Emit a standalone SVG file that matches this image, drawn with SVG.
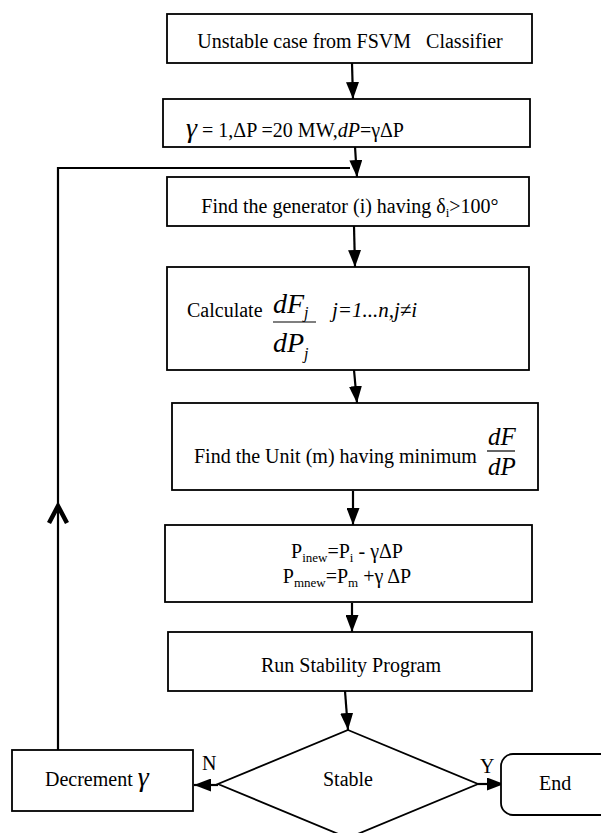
<svg xmlns="http://www.w3.org/2000/svg" width="601" height="833" viewBox="0 0 601 833">
<style>
.box{fill:#fff;stroke:#000;stroke-width:1.8}
.t{font-family:"Liberation Serif","Times New Roman",serif;font-size:20px;fill:#000}
.i{font-style:italic}
.c{stroke:#000;stroke-width:2.2;fill:none}
.g{font-style:italic;font-size:28px}
.f4{font-size:28px}
.f5{font-size:25px}
.sm{font-size:21px}
</style>
<defs>
<marker id="ah" viewBox="0 0 17 13" refX="17" refY="6.5" markerWidth="17" markerHeight="13" markerUnits="userSpaceOnUse" orient="auto">
<path d="M0,0 L17,6.5 L0,13 z" fill="#000"/>
</marker>
</defs>
<rect width="601" height="833" fill="#fff"/>

<g id="connectors">
<line class="c" x1="352" y1="63" x2="353" y2="99" marker-end="url(#ah)"/>
<line class="c" x1="355" y1="147" x2="357" y2="177" marker-end="url(#ah)"/>
<line class="c" x1="354" y1="226" x2="355" y2="267" marker-end="url(#ah)"/>
<line class="c" x1="354" y1="370" x2="357" y2="403" marker-end="url(#ah)"/>
<line class="c" x1="353" y1="491" x2="353" y2="525" marker-end="url(#ah)"/>
<line class="c" x1="352" y1="603" x2="352" y2="632" marker-end="url(#ah)"/>
<line class="c" x1="345" y1="691" x2="348" y2="730" marker-end="url(#ah)"/>
<line class="c" x1="218" y1="785" x2="194" y2="785" marker-end="url(#ah)"/>
<line class="c" x1="478" y1="784" x2="504" y2="784" marker-end="url(#ah)"/>
<polyline class="c" points="58,753 58,168 350,168"/>
<polyline points="49,523 58,506 67,523" fill="none" stroke="#000" stroke-width="4.5"/>
</g>

<g id="start">
<rect class="box" x="167" y="14" width="365" height="49"/>
<text class="t" x="350" y="48" text-anchor="middle" xml:space="preserve">Unstable case from FSVM   Classifier</text>
</g>

<g id="init">
<rect class="box" x="163" y="99" width="367" height="48"/>
<text class="t" x="186" y="137"><tspan class="g">γ</tspan> = 1,ΔP =20 MW,<tspan class="i">dP</tspan>=γΔP</text>
</g>

<g id="findgen">
<rect class="box" x="167" y="177" width="362" height="49"/>
<text class="t" x="350" y="213" text-anchor="middle">Find the generator (i) having δ<tspan font-size="13" dy="4">i</tspan><tspan dy="-4">&gt;100°</tspan></text>
</g>

<g id="calc">
<rect class="box" x="167" y="267" width="362" height="103"/>
<text class="t" x="187" y="317">Calculate</text>
<text class="t i f4" x="273" y="313">dF<tspan font-size="16" dy="5">j</tspan></text>
<line x1="273" y1="322" x2="316" y2="322" stroke="#000" stroke-width="1.2"/>
<text class="t i f4" x="273" y="352">dP<tspan font-size="16" dy="7">j</tspan></text>
<text class="t i sm" x="332" y="317">j=1...n,j≠i</text>
</g>

<g id="findunit">
<rect class="box" x="172" y="403" width="366" height="87"/>
<text class="t" x="194" y="463">Find the Unit (m) having minimum</text>
<text class="t i f5" x="488" y="445">dF</text>
<line x1="487" y1="451" x2="515" y2="451" stroke="#000" stroke-width="1.2"/>
<text class="t i f5" x="488" y="475">dP</text>
</g>

<g id="update">
<rect class="box" x="165" y="525" width="367" height="77"/>
<text class="t" x="347" y="558" text-anchor="middle">P<tspan font-size="13" dy="4">inew</tspan><tspan dy="-4">=P</tspan><tspan font-size="13" dy="4">i</tspan><tspan dy="-4"> - γΔP</tspan></text>
<text class="t" x="347" y="583" text-anchor="middle">P<tspan font-size="13" dy="4">mnew</tspan><tspan dy="-4">=P</tspan><tspan font-size="13" dy="4">m</tspan><tspan dy="-4"> +γ ΔP</tspan></text>
</g>

<g id="run">
<rect class="box" x="168" y="632" width="364" height="59"/>
<text class="t" x="351" y="672" text-anchor="middle">Run Stability Program</text>
</g>

<g id="stable">
<polygon class="box" points="348,730 478,784 348,838 218,784"/>
<text class="t" x="348" y="786" text-anchor="middle">Stable</text>
</g>

<g id="decrement">
<rect class="box" x="12" y="750" width="181" height="61"/>
<text class="t" x="45" y="786">Decrement <tspan class="g">γ</tspan></text>
</g>

<g id="end">
<rect class="box" x="501" y="754" width="130" height="61" rx="12"/>
<text class="t" x="539" y="790">End</text>
</g>

<g id="labels">
<text class="t" x="202" y="770">N</text>
<text class="t" x="480" y="773">Y</text>
</g>
</svg>
